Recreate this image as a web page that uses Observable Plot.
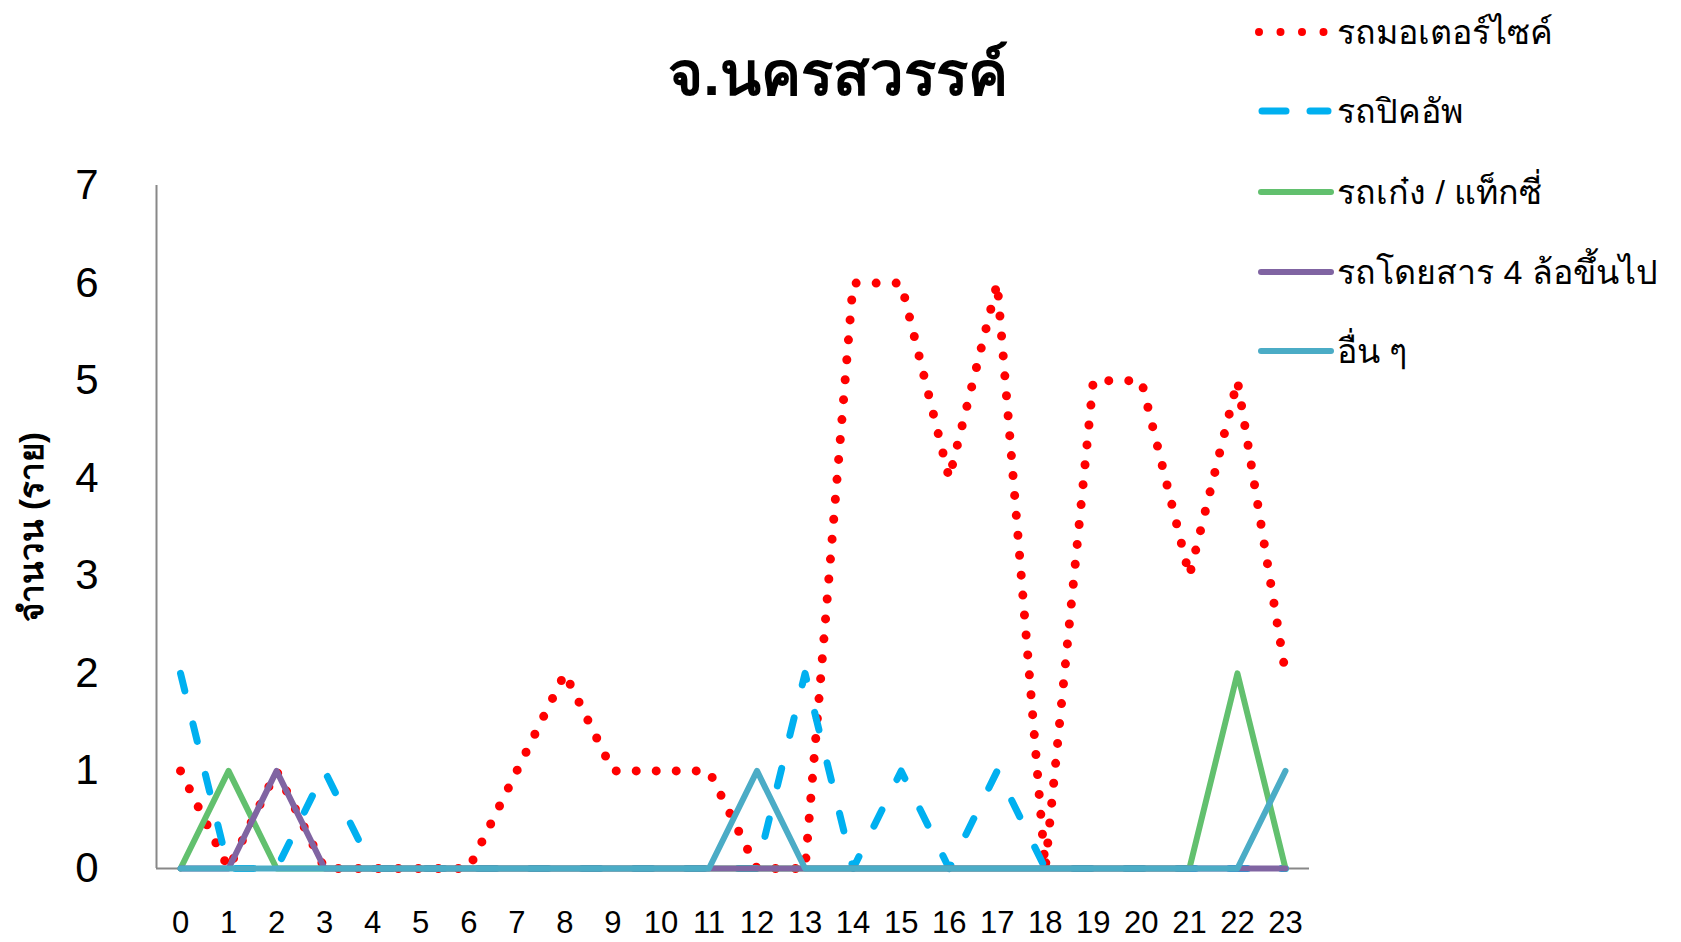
<!DOCTYPE html>
<html>
<head>
<meta charset="utf-8">
<script src="https://cdn.jsdelivr.net/npm/d3@7"></script>
<script src="https://cdn.jsdelivr.net/npm/@observablehq/plot@0.6"></script>
<style>
  html, body { margin: 0; padding: 0; background: #fff; }
  #wrap { position: relative; width: 1681px; height: 942px; overflow: hidden; font-family: "Liberation Sans", Arial, sans-serif; }
  #chart { position: absolute; left: 0; top: 0; }
  #title { position: absolute; left: 838px; top: 73px; transform: translate(-50%, -50%); font-size: 60px; font-weight: bold; white-space: nowrap; color: #000; }
  .leg { position: absolute; left: 1255px; height: 60px; display: flex; align-items: center; transform: translateY(-50%); white-space: nowrap; }
  .leg svg { width: 80px; height: 20px; flex: none; }
  .leg span { font-size: 34px; color: #000; margin-left: 2px; }
</style>
</head>
<body>
<div id="wrap">
  <div id="chart"></div>
  <div id="title"></div>
  <div id="legend"></div>
</div>
<script>
// ---- data ----
const titleText = "จ.นครสวรรค์";
const yLabel = "จำนวน (ราย)";
const hours = [0,1,2,3,4,5,6,7,8,9,10,11,12,13,14,15,16,17,18,19,20,21,22,23];
const seriesNames = ["รถมอเตอร์ไซค์", "รถปิคอัพ", "รถเก๋ง / แท็กซี่", "รถโดยสาร 4 ล้อขึ้นไป", "อื่น ๆ"];
const motorcycle = [1,0,1,0,0,0,0,1,2,1,1,1,0,0,6,6,4,6,0,5,5,3,5,2];
const pickup     = [2,0,0,1,0,0,0,0,0,0,0,0,0,2,0,1,0,1,0,0,0,0,0,0];
const taxi       = [0,1,0,0,0,0,0,0,0,0,0,0,0,0,0,0,0,0,0,0,0,0,2,0];
const bus        = [0,0,1,0,0,0,0,0,0,0,0,0,0,0,0,0,0,0,0,0,0,0,0,0];
const other      = [0,0,0,0,0,0,0,0,0,0,0,0,1,0,0,0,0,0,0,0,0,0,0,1];
const yTicks = [0,1,2,3,4,5,6,7];

// ---- styles ----
const styles = [
  {color: "#FF0000", width: 9, dash: "0 20", cap: "round"},
  {color: "#00B0F0", width: 7, dash: "18 34", cap: "round"},
  {color: "#62C06E", width: 6, dash: null, cap: "round"},
  {color: "#8064A2", width: 6, dash: null, cap: "round"},
  {color: "#4BACC6", width: 6, dash: null, cap: "round"}
];
const allSeries = [motorcycle, pickup, taxi, bus, other];
const rows = allSeries.map(vals => hours.map((h, i) => ({hour: h, value: vals[i]})));

const lineMarks = rows.map((data, k) => Plot.line(data, {
  x: "hour", y: "value",
  stroke: styles[k].color,
  strokeWidth: styles[k].width,
  strokeDasharray: styles[k].dash,
  strokeLinecap: styles[k].cap,
  strokeLinejoin: "round"
}));

const chart = Plot.plot({
  width: 1681,
  height: 942,
  marginLeft: 156,
  marginRight: 372,
  marginTop: 185,
  marginBottom: 74,
  style: {fontFamily: "'Liberation Sans', Arial, sans-serif", background: "#fff", color: "#000"},
  x: {domain: [-0.5, 23.5], axis: null},
  y: {domain: [0, 7], axis: null},
  marks: [
    Plot.ruleX([-0.5], {stroke: "#888", strokeWidth: 2}),
    Plot.ruleY([0], {stroke: "#888", strokeWidth: 2}),
    Plot.axisY(yTicks, {tickSize: 0, tickPadding: 58, fontSize: 42, label: null, tickFormat: d => String(d)}),
    Plot.axisX(hours, {tickSize: 0, tickPadding: 42, fontSize: 31, label: null, tickFormat: d => String(d)}),
    Plot.text([yLabel], {frameAnchor: "left", rotate: -90, dx: -124, textAnchor: "middle", fontSize: 33, fontWeight: "bold", fill: "#000"}),
    ...lineMarks
  ]
});
document.getElementById("chart").appendChild(chart);
document.getElementById("title").textContent = titleText;

// ---- legend ----
const legendY = [32, 111, 192, 272, 351];
const legend = document.getElementById("legend");
seriesNames.forEach((name, k) => {
  const row = document.createElement("div");
  row.className = "leg";
  row.style.top = legendY[k] + "px";
  const s = styles[k];
  let inner;
  if (k === 0) {
    inner = `<line x1="4" y1="10" x2="74" y2="10" stroke="${s.color}" stroke-width="8" stroke-linecap="round" stroke-dasharray="0 21.5"/>`;
  } else if (k === 1) {
    inner = `<line x1="7" y1="10" x2="31" y2="10" stroke="${s.color}" stroke-width="7" stroke-linecap="round"/>` +
            `<line x1="55" y1="10" x2="73" y2="10" stroke="${s.color}" stroke-width="7" stroke-linecap="round"/>`;
  } else {
    inner = `<line x1="6" y1="10" x2="76" y2="10" stroke="${s.color}" stroke-width="6" stroke-linecap="round"/>`;
  }
  row.innerHTML = `<svg viewBox="0 0 80 20">${inner}</svg><span>${name}</span>`;
  legend.appendChild(row);
});
</script>
</body>
</html>
